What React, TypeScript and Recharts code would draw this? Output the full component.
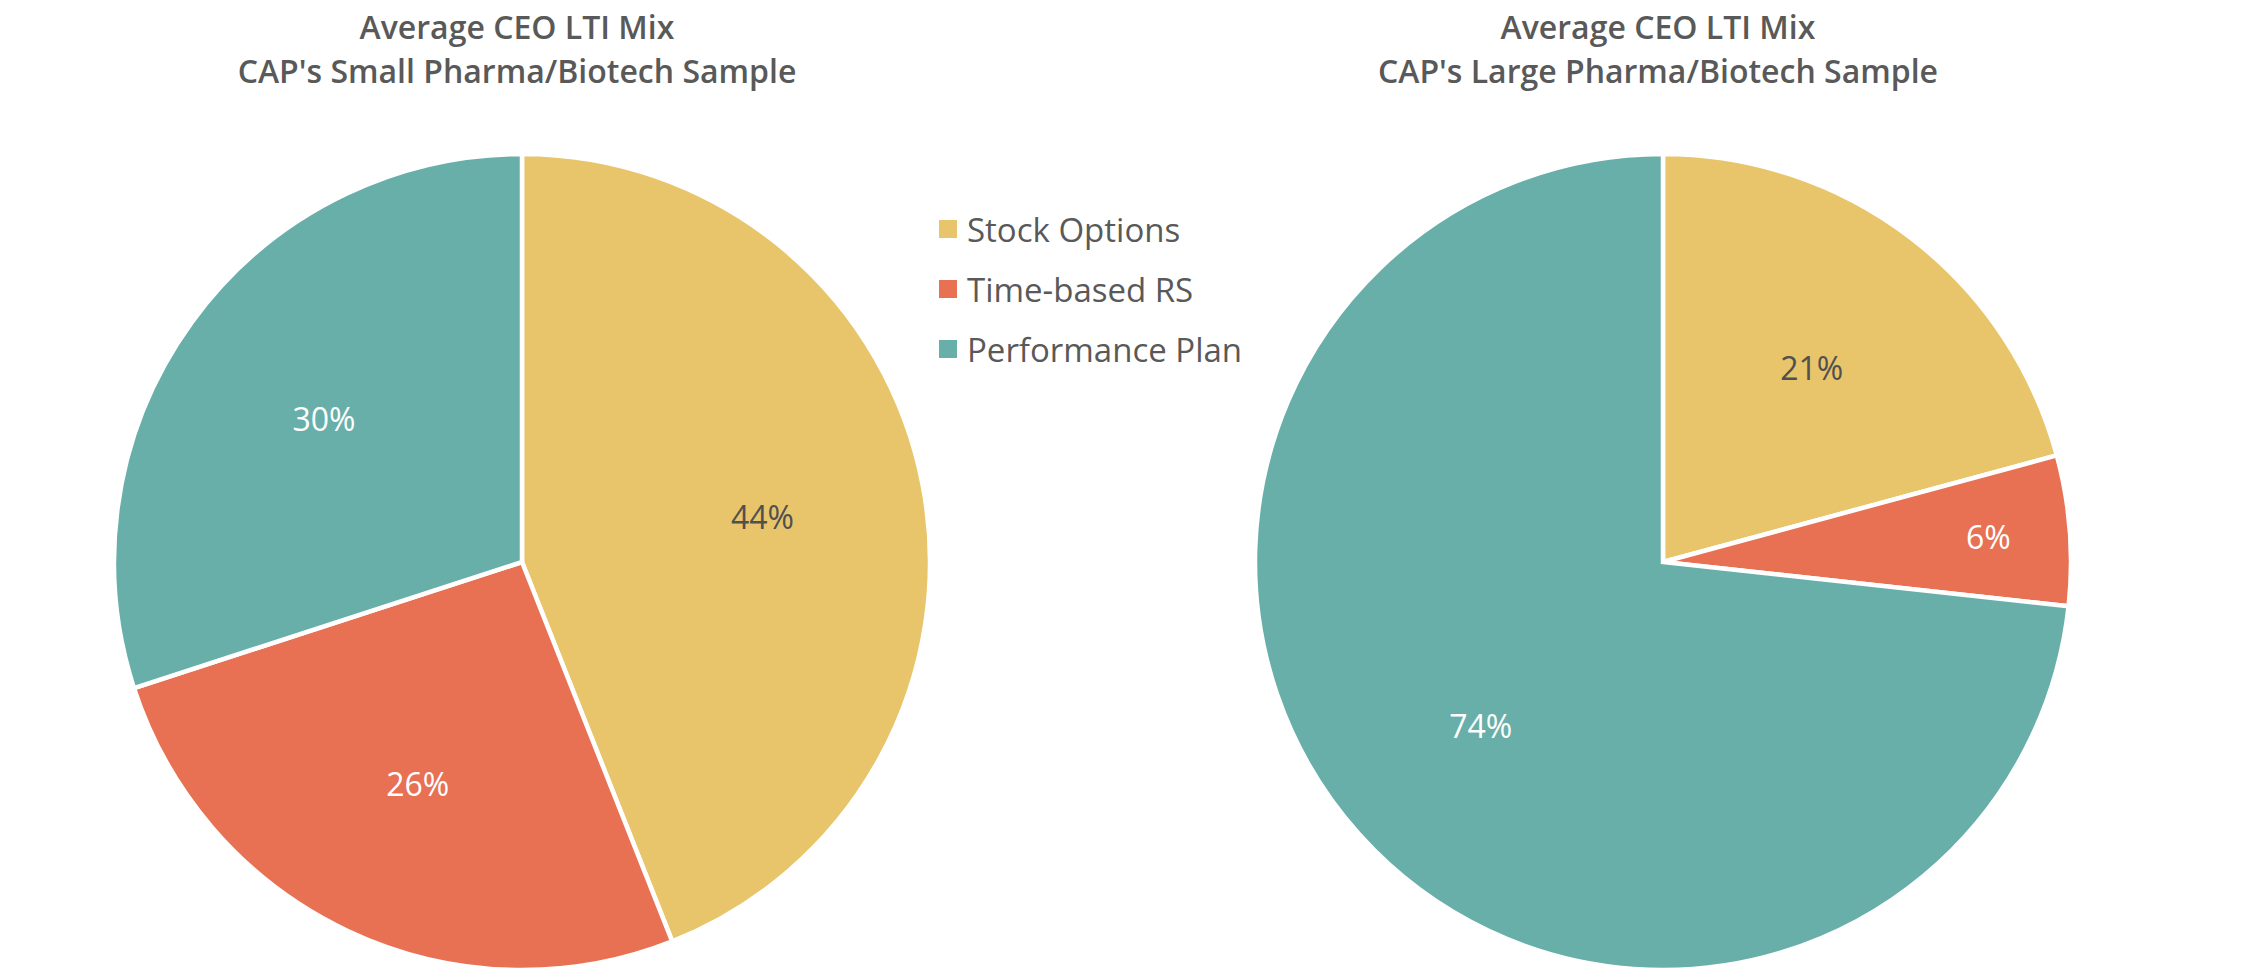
import React from 'react';
import { PieChart, Pie, Cell, Legend } from 'recharts';

const categories = ['Stock Options', 'Time-based RS', 'Performance Plan'];
const smallValues = [44, 26, 30];
const largeValues = [21, 6, 74];
const titles = [
  ['Average CEO LTI Mix', "CAP's Small Pharma/Biotech Sample"],
  ['Average CEO LTI Mix', "CAP's Large Pharma/Biotech Sample"],
];

const COLORS = ['#E8C56B', '#E87053', '#68AFA9'];
const LABEL_COLORS = ['#505050', '#ffffff', '#ffffff'];
const FONT = '"Open Sans", Lato, sans-serif';
const RAD = Math.PI / 180;

const smallData = categories.map((name, i) => ({ name, value: smallValues[i] }));
const largeData = categories.map((name, i) => ({ name, value: largeValues[i] }));

// thin slices get their label pushed further out, like Excel's best fit
const renderLabel = ({ cx, cy, midAngle, outerRadius, value, percent, index }: any) => {
  const r = outerRadius * (percent < 0.1 ? 0.8 : 0.6);
  const x = cx + r * Math.cos(-midAngle * RAD);
  const y = cy + r * Math.sin(-midAngle * RAD);
  return (
    <text
      x={x}
      y={y}
      fill={LABEL_COLORS[index]}
      textAnchor="middle"
      dominantBaseline="central"
      fontSize={32}
      fontFamily={FONT}
    >
      {`${value}%`}
    </text>
  );
};

const LegendBox = () => (
  <div style={{ position: 'absolute', left: 939, top: 209, fontFamily: FONT }}>
    {categories.map((c, i) => (
      <div key={c} style={{ display: 'flex', alignItems: 'center', height: 40, marginBottom: 20 }}>
        <span style={{ width: 18, height: 18, background: COLORS[i], marginRight: 10 }} />
        <span style={{ fontSize: 33, color: '#595959' }}>{c}</span>
      </div>
    ))}
  </div>
);

const Title = ({ lines, cx }: { lines: string[]; cx: number }) => (
  <div
    style={{
      position: 'absolute',
      left: cx - 400,
      top: 5,
      width: 800,
      textAlign: 'center',
      fontFamily: FONT,
      fontWeight: 600,
      fontSize: 32,
      lineHeight: '44px',
      color: '#595959',
    }}
  >
    {lines.map((l) => (
      <div key={l}>{l}</div>
    ))}
  </div>
);

const App = () => {
  return (
    <div style={{ position: 'absolute', left: 0, top: 0, width: 2250, height: 978, background: '#fff' }}>
      <PieChart width={2250} height={978}>
        <Pie
          data={smallData}
          dataKey="value"
          cx={517}
          cy={557}
          outerRadius={408}
          startAngle={90}
          endAngle={-270}
          stroke="#ffffff"
          strokeWidth={4.5}
          labelLine={false}
          label={renderLabel}
          isAnimationActive={false}
        >
          {smallData.map((d, i) => (
            <Cell key={d.name} fill={COLORS[i]} />
          ))}
        </Pie>
        <Pie
          data={largeData}
          dataKey="value"
          cx={1658}
          cy={557}
          outerRadius={408}
          startAngle={90}
          endAngle={-270}
          stroke="#ffffff"
          strokeWidth={4.5}
          labelLine={false}
          label={renderLabel}
          isAnimationActive={false}
        >
          {largeData.map((d, i) => (
            <Cell key={d.name} fill={COLORS[i]} />
          ))}
        </Pie>
        <Legend content={() => null} />
      </PieChart>
      <Title lines={titles[0]} cx={517} />
      <Title lines={titles[1]} cx={1658} />
      <LegendBox />
    </div>
  );
};

export default App;
